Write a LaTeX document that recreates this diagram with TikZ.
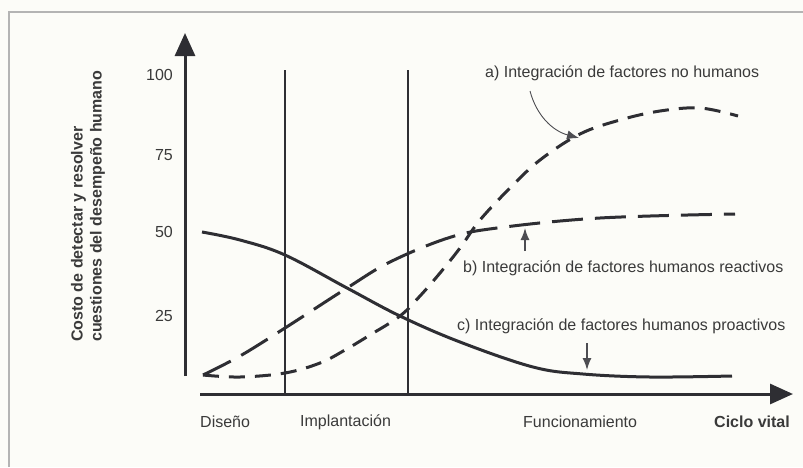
\documentclass[tikz,border=0pt]{standalone}
\usepackage{fontspec}
\setmainfont{Liberation Sans}
\usepackage{tikz}
\usetikzlibrary{arrows,arrows.meta,positioning}
\usepackage{xcolor}
\definecolor{ink}{HTML}{2E2E33}
\definecolor{txt}{HTML}{3A3A3A}
\definecolor{paper}{HTML}{FCFCF8}
\definecolor{framegray}{HTML}{B4B4B4}

\begin{document}
\begin{tikzpicture}[>=latex', x=1pt, y=-1pt, every node/.style={text=txt, inner sep=0pt, font=\fontsize{16}{19}\selectfont}]
      \tikzset{
	  axis/.style={ink, line width=3pt, -{Triangle[length=23pt,width=20pt]}},
	  phase/.style={ink, line width=1.5pt},
	  costc/.style={ink, line width=3pt},
	  costb/.style={ink, line width=3pt, dash pattern=on 31pt off 12pt},
	  costa/.style={ink, line width=3pt, dash pattern=on 16pt off 10pt},
	  note/.style={ink!85, line width=1.4pt, -{Latex[length=12pt,width=9pt]}},
	  tick/.style={anchor=east},
      }
      \fill[paper] (0,0) rectangle (803,467);
      \useasboundingbox (0,0) rectangle (803,467);
      \draw[framegray, line width=1.5pt] (9,467) -- (9,12) -- (803,12);

      % axes
      \coordinate (y0) at (185,376);
      \coordinate (y1) at (185,33);
      \coordinate (x0) at (200,394);
      \coordinate (x1) at (793,394);
      \draw[axis] (y0) -- (y1);
      \draw[axis] (x0) -- (x1);

      % phases
      \coordinate (p1b) at (285,394);
      \coordinate (p1t) at (285,70);
      \coordinate (p2b) at (408,394);
      \coordinate (p2t) at (408,70);
      \draw[phase] (p1b) -- (p1t);
      \draw[phase] (p2b) -- (p2t);

      \node[tick] (t100) at (173,75) {100};
      \node[tick] (t75) at (173,155) {75};
      \node[tick] (t50) at (173,232) {50};
      \node[tick] (t25) at (173,316) {25};

      \node[rotate=90, align=left, anchor=west, font=\fontsize{16}{19}\selectfont\bfseries] (ylab) at (88,342)
	{Costo de detectar y resolver\\cuestiones del desempeño humano};

      \node[anchor=west] (dis) at (200,422) {Diseño};
      \node[anchor=west] (imp) at (300,422) {Implantación};
      \node[anchor=west] (fun) at (523,422) {Funcionamiento};
      \node[anchor=east, font=\fontsize{16}{19}\selectfont\bfseries] (cic) at (790,422) {Ciclo vital};

      % curves
      \draw[costc] plot[smooth, tension=0.6] coordinates {(202,232) (240,240) (285,255) (347,288) (400,316) (460,342) (533,367) (583,374) (650,377) (732,376)};
      \draw[costb] plot[smooth, tension=0.6] coordinates {(203,375) (240,356) (285,328) (347,288) (390,262) (448,238) (497,228) (600,218) (735,214)};
      \draw[costa] plot[smooth, tension=0.6] coordinates {(203,375) (240,377) (285,373) (320,363) (345,350) (370,335) (400,316) (420,296) (440,273) (460,248) (480,220) (510,188) (540,160) (580,134) (620,120) (660,111) (700,108) (738,116)};

      % labels
      \node[anchor=west] (lbla) at (485,73) {a) Integración de factores no humanos};
      \node[anchor=west] (lblb) at (463,268) {b) Integración de factores humanos reactivos};
      \node[anchor=west] (lblc) at (457,326) {c) Integración de factores humanos proactivos};

      \coordinate (fa) at (530,91);
      \coordinate (ta) at (579,138);
      \coordinate (fb) at (525,251);
      \coordinate (tb) at (525,228);
      \coordinate (fc) at (587,343);
      \coordinate (tc) at (587,370);
      \draw[note, line width=0.9pt] (fa) to[out=-75, in=165] (ta);
      \draw[note] (fb) -- (tb);
      \draw[note] (fc) -- (tc);
    \end{tikzpicture}
\end{document}
